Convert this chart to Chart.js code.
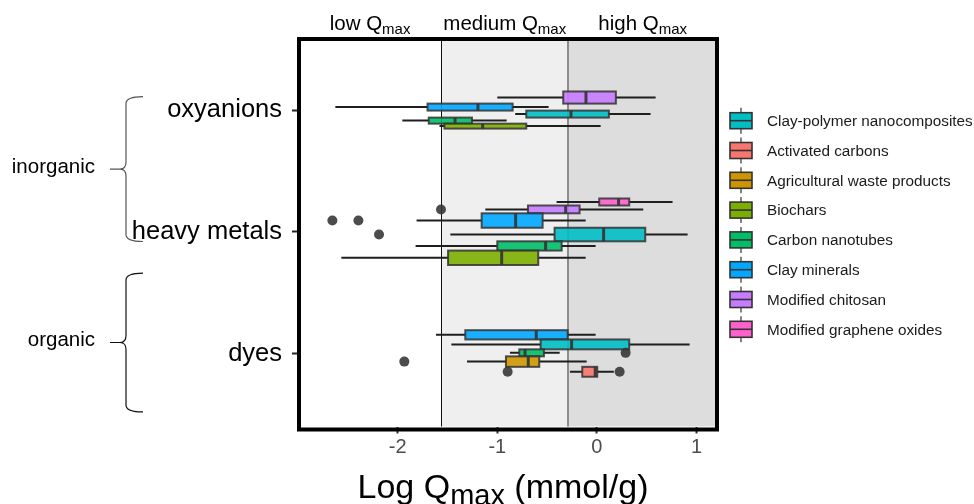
<!DOCTYPE html>
<html><head><meta charset="utf-8">
<script src="https://cdn.jsdelivr.net/npm/chart.js@4.4.1/dist/chart.umd.min.js"></script>
<style>html,body{margin:0;padding:0;background:#fff}#wrap{width:974px;height:504px}</style>
</head><body><div id="wrap"><canvas id="c" width="974" height="504"></canvas></div>
<script>
// ---------- data ----------
const categories = ['oxyanions', 'heavy metals', 'dyes'];
const categoryValues = [3, 2, 1];
const materials = ['Clay-polymer nanocomposites', 'Activated carbons', 'Agricultural waste products', 'Biochars',
  'Carbon nanotubes', 'Clay minerals', 'Modified chitosan', 'Modified graphene oxides'];
// dodge order, bottom -> top inside each category
const stackOrder = ['Activated carbons', 'Agricultural waste products', 'Biochars', 'Carbon nanotubes',
  'Clay-polymer nanocomposites', 'Clay minerals', 'Modified chitosan', 'Modified graphene oxides'];
const xTicks = [-2, -1, 0, 1];
const bandLimits = [-1.564, -0.286];
const bandLabels = ['low', 'medium', 'high'];
const groupNames = ['inorganic', 'organic'];
const groupFrom = [3.11, 1.66];
const groupTo = [1.92, 0.52];

const boxCategory = ['oxyanions', 'oxyanions', 'oxyanions', 'oxyanions', 'oxyanions',
  'heavy metals', 'heavy metals', 'heavy metals', 'heavy metals', 'heavy metals', 'heavy metals',
  'dyes', 'dyes', 'dyes', 'dyes', 'dyes'];
const boxMaterial = ['Modified chitosan', 'Clay minerals', 'Clay-polymer nanocomposites', 'Carbon nanotubes', 'Biochars',
  'Modified graphene oxides', 'Modified chitosan', 'Clay minerals', 'Clay-polymer nanocomposites', 'Carbon nanotubes', 'Biochars',
  'Clay minerals', 'Clay-polymer nanocomposites', 'Carbon nanotubes', 'Agricultural waste products', 'Activated carbons'];
const boxMin    = [-1.00, -2.625, -0.82, -1.953, -1.58,   -0.405, -1.12, -1.81, -1.471, -1.82, -2.565,   -1.615, -1.461, -0.873, -1.304, -0.271];
const boxQ1     = [-0.338, -1.70, -0.709, -1.688, -1.53,  0.023, -0.692, -1.157, -0.425, -1.00, -1.494,  -1.321, -0.565, -0.779, -0.913, -0.147];
const boxMedian = [-0.11, -1.194, -0.26, -1.424, -1.147,  0.217, -0.314, -0.816, 0.067, -0.515, -0.956,  -0.609, -0.254, -0.722, -0.689, -0.017];
const boxQ3     = [0.19, -0.846, 0.12, -1.254, -0.709,    0.324, -0.174, -0.545, 0.485, -0.354, -0.589,  -0.294, 0.324, -0.532, -0.579, 0.003];
const boxMax    = [0.589, -0.485, 0.538, -0.906, 0.037,   0.759, 0.465, -0.113, 0.91, -0.013, -0.113,    -0.013, 0.93, -0.374, -0.103, 0.17];
const boxCount  = [12, 4, 4, 3, 2,   4, 5, 17, 15, 7, 17,   7, 8, 4, 9, 8];

const outlierCategory = ['heavy metals', 'heavy metals', 'heavy metals', 'heavy metals', 'dyes', 'dyes', 'dyes', 'dyes'];
const outlierMaterial = ['Modified chitosan', 'Clay minerals', 'Clay minerals', 'Clay-polymer nanocomposites',
  'Carbon nanotubes', 'Agricultural waste products', 'Activated carbons', 'Activated carbons'];
const outlierValue = [-1.565, -2.655, -2.394, -2.187, 0.288, -1.933, -0.896, 0.228];

// ---------- style ----------
const colors = {
  'Clay-polymer nanocomposites': '#00BFC4', 'Activated carbons': '#F8766D', 'Agricultural waste products': '#CD9600',
  'Biochars': '#7CAE00', 'Carbon nanotubes': '#00BE67', 'Clay minerals': '#00A9FF',
  'Modified chitosan': '#C77CFF', 'Modified graphene oxides': '#FF61CC'
};
const FONT = "'Liberation Sans', Arial, Helvetica, sans-serif";
const BOX_UNIT = 0.02875; // box thickness per sqrt(count), in category units

function hexA(hex, a) {
  const n = parseInt(hex.slice(1), 16);
  return `rgba(${n >> 16},${(n >> 8) & 255},${n & 255},${a})`;
}

// dodge layout (varwidth-like): stack boxes around each category value
function layoutBoxes() {
  const res = [];
  categories.forEach((cat, ci) => {
    const idx = boxCategory.map((c, i) => c === cat ? i : -1).filter(i => i >= 0);
    idx.sort((a, b) => stackOrder.indexOf(boxMaterial[a]) - stackOrder.indexOf(boxMaterial[b]));
    const hs = idx.map(i => BOX_UNIT * Math.sqrt(boxCount[i]));
    const total = hs.reduce((a, b) => a + b, 0);
    let y = categoryValues[ci] - total / 2;
    idx.forEach((i, k) => { res[i] = { center: y + hs[k] / 2, half: hs[k] / 2 }; y += hs[k]; });
  });
  return res;
}
const layout = layoutBoxes();
function boxIndex(cat, mat) {
  for (let i = 0; i < boxCategory.length; i++) if (boxCategory[i] === cat && boxMaterial[i] === mat) return i;
  return -1;
}

const outlierDatasets = materials.map(m => ({
  label: m,
  data: outlierValue.map((v, i) => outlierMaterial[i] === m
    ? { x: v, y: layout[boxIndex(outlierCategory[i], m)].center } : null).filter(d => d),
  pointRadius: 5, pointHoverRadius: 5, pointBorderWidth: 0,
  pointBackgroundColor: 'rgba(51,51,51,0.88)', showLine: false, clip: false
}));

function drawSubText(ctx, parts, cx, baseY, mainSize, subSize, subShift, align) {
  let w = 0;
  parts.forEach(p => { ctx.font = `${p[1] ? subSize : mainSize}px ${FONT}`; w += ctx.measureText(p[0]).width; });
  let x = align === 'center' ? cx - w / 2 : cx;
  ctx.textAlign = 'left'; ctx.textBaseline = 'alphabetic';
  parts.forEach(p => {
    ctx.font = `${p[1] ? subSize : mainSize}px ${FONT}`;
    ctx.fillText(p[0], x, baseY + (p[1] ? subShift : 0));
    x += ctx.measureText(p[0]).width;
  });
}

const boxPlugin = {
  id: 'boxes',
  beforeDatasetsDraw(chart) {
    const { ctx, chartArea: a, scales: { x, y } } = chart;
    ctx.save();
    const b0 = x.getPixelForValue(bandLimits[0]), b1 = x.getPixelForValue(bandLimits[1]);
    ctx.fillStyle = '#ffffff'; ctx.fillRect(a.left, a.top, b0 - a.left, a.bottom - a.top);
    ctx.fillStyle = '#efefef'; ctx.fillRect(b0, a.top, b1 - b0, a.bottom - a.top);
    ctx.fillStyle = '#dddddd'; ctx.fillRect(b1, a.top, a.right - b1, a.bottom - a.top);
    ctx.strokeStyle = '#111'; ctx.lineWidth = 1;
    ctx.beginPath(); ctx.moveTo(Math.round(b0) + 0.5, a.top); ctx.lineTo(Math.round(b0) + 0.5, a.bottom); ctx.stroke();
    ctx.strokeStyle = '#8c8c8c'; ctx.lineWidth = 2;
    ctx.beginPath(); ctx.moveTo(Math.round(b1), a.top); ctx.lineTo(Math.round(b1), a.bottom); ctx.stroke();
    for (let i = 0; i < boxCategory.length; i++) {
      const L = layout[i];
      const yc = y.getPixelForValue(L.center);
      const yt = y.getPixelForValue(L.center + L.half), yb = y.getPixelForValue(L.center - L.half);
      const xMin = x.getPixelForValue(boxMin[i]), xQ1 = x.getPixelForValue(boxQ1[i]);
      const xMed = x.getPixelForValue(boxMedian[i]), xQ3 = x.getPixelForValue(boxQ3[i]);
      const xMax = x.getPixelForValue(boxMax[i]);
      ctx.strokeStyle = '#1f1f1f'; ctx.lineWidth = 2;
      ctx.beginPath(); ctx.moveTo(xMin, yc); ctx.lineTo(xQ1, yc); ctx.moveTo(xQ3, yc); ctx.lineTo(xMax, yc); ctx.stroke();
      ctx.fillStyle = hexA(colors[boxMaterial[i]], 0.9);
      ctx.fillRect(xQ1, yt, xQ3 - xQ1, yb - yt);
      ctx.strokeStyle = 'rgba(51,51,51,0.85)'; ctx.lineWidth = 2;
      ctx.strokeRect(xQ1, yt, xQ3 - xQ1, yb - yt);
      ctx.strokeStyle = 'rgba(51,51,51,0.9)'; ctx.lineWidth = 3;
      ctx.beginPath(); ctx.moveTo(xMed, yt); ctx.lineTo(xMed, yb); ctx.stroke();
    }
    ctx.restore();
  },
  afterDraw(chart) {
    const { ctx, chartArea: a, scales: { x, y } } = chart;
    ctx.save();
    ctx.strokeStyle = '#000'; ctx.lineWidth = 4;
    ctx.strokeRect(a.left, a.top + 2, a.right - a.left, a.bottom - a.top + 1);
    ctx.fillStyle = '#000';
    const edges = [a.left, x.getPixelForValue(bandLimits[0]), x.getPixelForValue(bandLimits[1]), a.right];
    bandLabels.forEach((t, i) => {
      drawSubText(ctx, [[t + ' Q', false], ['max', true]], (edges[i] + edges[i + 1]) / 2, 30, 20.5, 15, 4, 'center');
    });
    drawSubText(ctx, [['Log Q', false], ['max', true], [' (mmol/g)', false]], (a.left + a.right) / 2 - 5, 498, 34, 29, 7, 'center');
    const lx = 730, ly0 = 120.7, step = 29.8;
    materials.forEach((m, i) => {
      const yy = ly0 + i * step;
      ctx.strokeStyle = '#333'; ctx.lineWidth = 1.2;
      ctx.beginPath(); ctx.moveTo(lx + 11, yy - 13); ctx.lineTo(lx + 11, yy + 13); ctx.stroke();
      ctx.fillStyle = colors[m]; ctx.fillRect(lx, yy - 8, 22, 16);
      ctx.lineWidth = 1.6; ctx.strokeRect(lx, yy - 8, 22, 16);
      ctx.beginPath(); ctx.moveTo(lx, yy); ctx.lineTo(lx + 22, yy); ctx.stroke();
      ctx.fillStyle = '#1a1a1a'; ctx.font = `15.3px ${FONT}`; ctx.textAlign = 'left'; ctx.textBaseline = 'middle';
      ctx.fillText(m, 767, yy + 1);
    });
    groupNames.forEach((g, i) => {
      const t = y.getPixelForValue(groupFrom[i]), b = y.getPixelForValue(groupTo[i]), mid = (t + b) / 2;
      ctx.strokeStyle = i === 0 ? '#555' : '#111'; ctx.lineWidth = 1.2;
      const bx = 126, r = 7;
      ctx.beginPath();
      ctx.moveTo(143, t); ctx.quadraticCurveTo(bx, t, bx, t + r);
      ctx.lineTo(bx, mid - r); ctx.quadraticCurveTo(bx, mid, bx - 6, mid);
      ctx.quadraticCurveTo(bx, mid, bx, mid + r);
      ctx.lineTo(bx, b - r); ctx.quadraticCurveTo(bx, b, 143, b);
      ctx.moveTo(110, mid); ctx.lineTo(bx - 6, mid);
      ctx.stroke();
      ctx.fillStyle = '#000'; ctx.font = `20.5px ${FONT}`; ctx.textAlign = 'right'; ctx.textBaseline = 'middle';
      ctx.fillText(g, 95, mid - 2);
    });
    ctx.restore();
  }
};

new Chart(document.getElementById('c'), {
  type: 'scatter',
  data: { datasets: outlierDatasets },
  options: {
    responsive: false, animation: false, devicePixelRatio: 1,
    layout: { padding: { left: 0, right: 257, top: 37, bottom: 0 } },
    plugins: { legend: { display: false }, tooltip: { enabled: false } },
    events: [],
    scales: {
      x: {
        type: 'linear', min: -2.99, max: 1.205,
        afterBuildTicks: s => { s.ticks = xTicks.map(v => ({ value: v })); },
        afterFit: s => { s.height = 77.5; },
        grid: { drawOnChartArea: false, drawTicks: true, tickLength: 7, tickWidth: 2, tickColor: '#333' },
        border: { display: false },
        ticks: { color: '#4d4d4d', font: { family: FONT, size: 20 }, padding: 2, autoSkip: false, maxRotation: 0 }
      },
      y: {
        type: 'linear', min: 0.4, max: 3.6,
        afterBuildTicks: s => { s.ticks = categoryValues.map(v => ({ value: v })); },
        afterFit: s => { s.width = 299; },
        grid: { drawOnChartArea: false, drawTicks: true, tickLength: 7, tickWidth: 2, tickColor: '#222' },
        border: { display: false },
        ticks: {
          callback: v => categories[categoryValues.indexOf(v)],
          color: '#000', font: { family: FONT, size: 25.5 }, padding: 10, autoSkip: false
        }
      }
    }
  },
  plugins: [boxPlugin]
});
</script></body></html>
